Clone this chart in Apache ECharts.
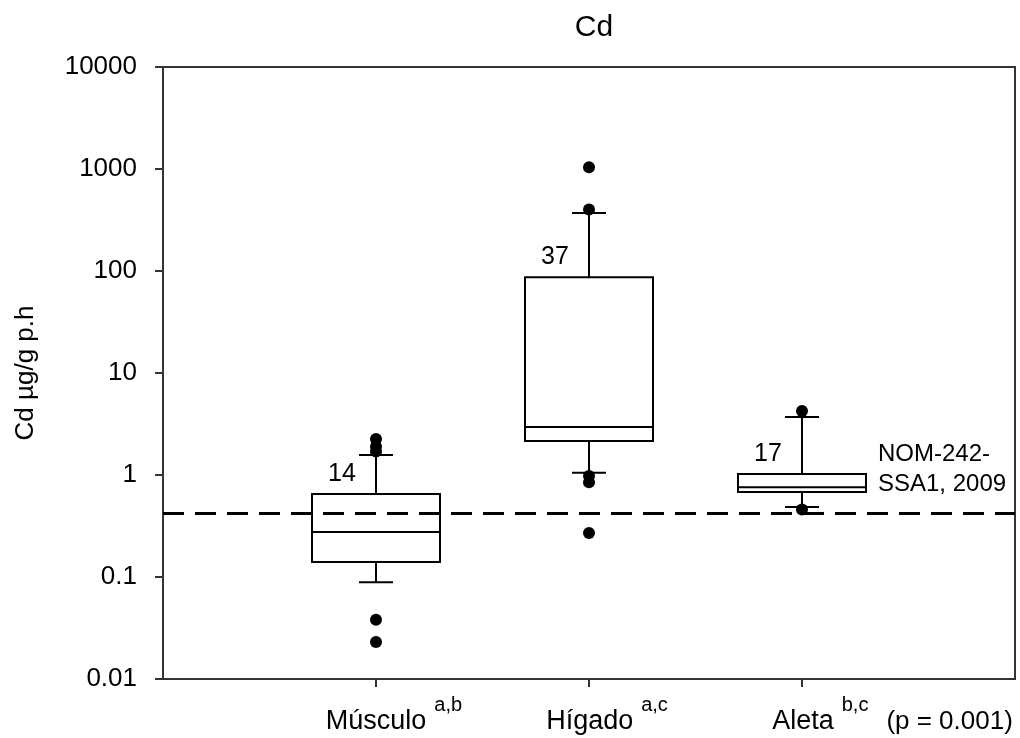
<!DOCTYPE html>
<html>
<head>
<meta charset="utf-8">
<script src="https://cdn.jsdelivr.net/npm/echarts@6/dist/echarts.min.js"></script>
<style>
  html, body { margin: 0; padding: 0; background: #fff; }
  #chart { width: 1020px; height: 738px; }
</style>
</head>
<body>
<div id="chart"></div>
<script>
// tissues on the x axis, with the letters of the post-hoc groups
const categories = ['Músculo', 'Hígado', 'Aleta'];
const groupLetters = ['a,b', 'a,c', 'b,c'];
const pValueText = '(p = 0.001)';
const sampleSizes = [14, 37, 17];

// box plot stats, Cd in µg/g p.h
const whiskerLow = [0.089, 1.05, 0.485];
const q1 = [0.14, 2.15, 0.68];
const median = [0.276, 2.95, 0.76];
const q3 = [0.65, 87, 1.02];
const whiskerHigh = [1.57, 370, 3.7];

// outlier points per tissue
const outliers = [
    [2.25, 1.9, 1.7, 0.038, 0.023],
    [1040, 400, 0.98, 0.85, 0.27],
    [4.24, 0.46]
];

// NOM-242-SSA1-2009 limit
const nomLimit = 0.42;
const nomText = 'NOM-242-\nSSA1, 2009';

const yTickLabels = ['0.01', '0.1', '1', '10', '100', '1000', '10000'];

window.onload = function () {
    run_chart();
};

function run_chart()
{
    const chart = echarts.init(document.getElementById('chart'));
    const font = 'Liberation Sans, Arial, sans-serif';

    // category slots: empty at both ends so the boxes sit at 1/4, 2/4, 3/4
    const xData = [''].concat(categories).concat(['']);

    let boxData = [];
    for (let i = 0; i < categories.length; i++)
        boxData.push([i + 1, whiskerLow[i], q1[i], median[i], q3[i], whiskerHigh[i], sampleSizes[i]]);

    let dots = [];
    for (let i = 0; i < outliers.length; i++)
        for (const v of outliers[i])
            dots.push([i + 1, v]);

    const BOX_W = 128, CAP_W = 34;
    const lineStyle = { stroke: '#000', lineWidth: 2, fill: null };

    function renderBox(params, api)
    {
        const x = api.value(0);
        const pLow = api.coord([x, api.value(1)]);
        const pQ1 = api.coord([x, api.value(2)]);
        const pMed = api.coord([x, api.value(3)]);
        const pQ3 = api.coord([x, api.value(4)]);
        const pHigh = api.coord([x, api.value(5)]);
        const cx = pQ1[0];
        return {
            type: 'group',
            children: [
                { type: 'rect', shape: { x: cx - BOX_W / 2, y: pQ3[1], width: BOX_W, height: pQ1[1] - pQ3[1] },
                  style: { stroke: '#000', lineWidth: 2, fill: '#fff' } },
                { type: 'line', shape: { x1: cx - BOX_W / 2, y1: pMed[1], x2: cx + BOX_W / 2, y2: pMed[1] }, style: lineStyle },
                { type: 'line', shape: { x1: cx, y1: pQ3[1], x2: cx, y2: pHigh[1] }, style: lineStyle },
                { type: 'line', shape: { x1: cx, y1: pQ1[1], x2: cx, y2: pLow[1] }, style: lineStyle },
                { type: 'line', shape: { x1: cx - CAP_W / 2, y1: pHigh[1], x2: cx + CAP_W / 2, y2: pHigh[1] }, style: lineStyle },
                { type: 'line', shape: { x1: cx - CAP_W / 2, y1: pLow[1], x2: cx + CAP_W / 2, y2: pLow[1] }, style: lineStyle },
                { type: 'text', x: cx - 34, y: pQ3[1] - 20,
                  style: { text: String(api.value(6)), fill: '#000', font: '25px ' + font, align: 'center', verticalAlign: 'middle' } }
            ]
        };
    }

    function renderNote(params, api)
    {
        const p = api.coord([3, nomLimit]);
        return {
            type: 'text', x: p[0] + 76, y: p[1] - 14,
            style: { text: nomText, fill: '#000', font: '24px ' + font, lineHeight: 30, align: 'left', verticalAlign: 'bottom' }
        };
    }

    const option = {
        animation: false,
        textStyle: { fontFamily: font },
        title: {
            text: 'Cd',
            left: 589, top: 8, textAlign: 'center',
            textStyle: { fontSize: 30, fontWeight: 'normal', color: '#000' }
        },
        grid: {
            left: 163, right: 5, top: 67, bottom: 59,
            outerBoundsMode: 'none',
            show: true, borderColor: '#333', borderWidth: 2, backgroundColor: 'transparent'
        },
        xAxis: {
            type: 'category',
            data: xData,
            boundaryGap: false,
            axisLine: { lineStyle: { color: '#333', width: 2 } },
            axisTick: { length: 8, interval: (i) => i > 0 && i < xData.length - 1, lineStyle: { color: '#333', width: 2 } },
            axisLabel: {
                interval: 0,
                margin: 16,
                formatter: function (value, idx) {
                    if (!value) return '';
                    const k = idx - 1;
                    if (k === categories.length - 1)
                        return '{padP|}{n|' + value + '}{s|' + groupLetters[k] + '}{p|' + pValueText + '}';
                    return '{pad|}{n|' + value + '}{s|' + groupLetters[k] + '}';
                },
                rich: {
                    pad: { width: 36, height: 40 },
                    padP: { width: 181, height: 40 },
                    n: { fontSize: 27, color: '#000', lineHeight: 40, verticalAlign: 'bottom' },
                    s: { fontSize: 20, color: '#000', lineHeight: 20, verticalAlign: 'top', padding: [0, 0, 0, 8] },
                    p: { fontSize: 26, color: '#000', lineHeight: 40, verticalAlign: 'bottom', padding: [0, 0, 0, 18] }
                }
            },
            splitLine: { show: false }
        },
        yAxis: {
            type: 'log',
            logBase: 10,
            min: 0.01,
            max: 10000,
            name: 'Cd µg/g p.h',
            nameLocation: 'middle',
            nameGap: 124,
            nameRotate: 90,
            nameTextStyle: { fontSize: 26, color: '#000' },
            axisLine: { show: true, lineStyle: { color: '#333', width: 2 } },
            axisTick: { show: true, length: 8, lineStyle: { color: '#333', width: 2 } },
            axisLabel: {
                fontSize: 26, color: '#000', margin: 26,
                formatter: (v) => yTickLabels[Math.round(Math.log10(v)) + 2]
            },
            splitLine: { show: false }
        },
        series: [
            {
                type: 'custom',
                renderItem: renderBox,
                data: boxData,
                z: 3,
                markLine: {
                    silent: true,
                    symbol: 'none',
                    label: { show: false },
                    lineStyle: { color: '#000', width: 3, type: [21, 11] },
                    data: [{ yAxis: nomLimit }]
                }
            },
            {
                type: 'scatter',
                data: dots,
                symbol: 'circle',
                symbolSize: 12,
                itemStyle: { color: '#000', opacity: 1 },
                z: 5
            },
            {
                type: 'custom',
                renderItem: renderNote,
                data: [[3, nomLimit]],
                z: 4
            }
        ]
    };
    chart.setOption(option);
}
</script>
</body>
</html>
